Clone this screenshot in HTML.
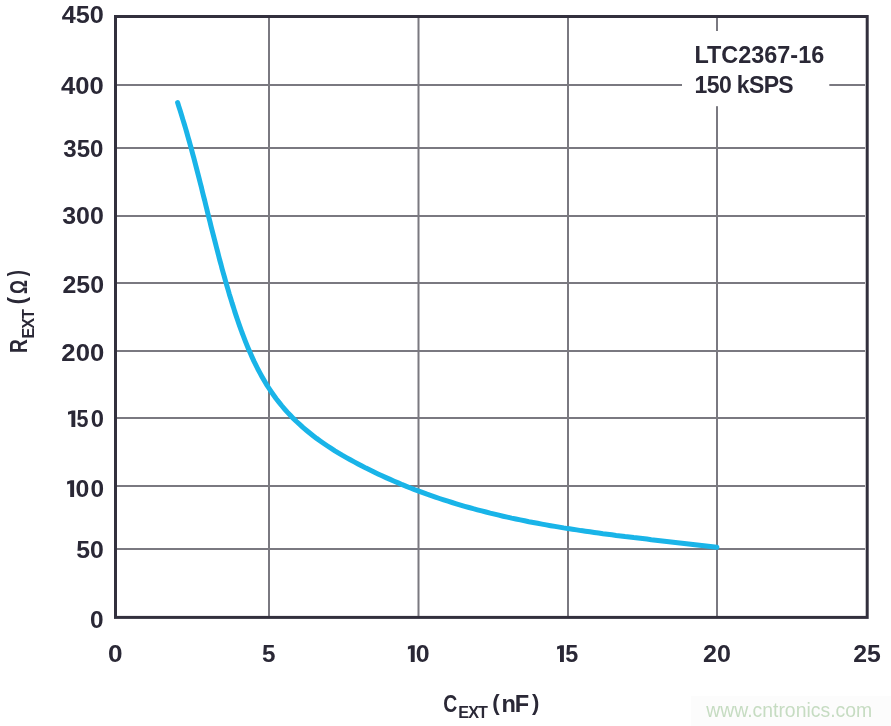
<!DOCTYPE html>
<html><head><meta charset="utf-8">
<style>
html,body{margin:0;padding:0;background:#fff;}
body{width:891px;height:726px;overflow:hidden;position:relative;}
svg{position:absolute;left:0;top:0;will-change:transform;}
text{font-family:"Liberation Sans",sans-serif;font-weight:bold;fill:#2a2836;}
</style></head><body>
<svg width="891" height="726" viewBox="0 0 891 726">
<g fill="#7a7980">
<rect x="268" y="18" width="2" height="598"/>
<rect x="417.5" y="18" width="2" height="598"/>
<rect x="567" y="18" width="2" height="598"/>
<rect x="716" y="18" width="2" height="598"/>
<rect x="117" y="84" width="748" height="2"/>
<rect x="117" y="147" width="748" height="2"/>
<rect x="117" y="215" width="748" height="2"/>
<rect x="117" y="282" width="748" height="2"/>
<rect x="117" y="350" width="748" height="2"/>
<rect x="117" y="417" width="748" height="2"/>
<rect x="117" y="485" width="748" height="2"/>
<rect x="117" y="548" width="748" height="2"/>
</g>
<rect x="682" y="31" width="147.3" height="75.2" fill="#fff"/>
<rect x="115.5" y="16.5" width="751.7" height="600.9" fill="none" stroke="#32303d" stroke-width="3"/>
<path d="M177.6,102.6 L178.9,106.8 L180.3,111.1 L181.6,115.3 L182.9,119.6 L184.2,123.8 L185.5,128.1 L186.7,132.3 L187.9,136.6 L189.1,140.8 L190.3,145.1 L191.5,149.3 L192.6,153.6 L193.8,157.9 L194.9,162.1 L196.0,166.4 L197.1,170.7 L198.2,174.9 L199.3,179.2 L200.4,183.5 L201.5,187.7 L202.5,192.0 L203.6,196.3 L204.7,200.5 L205.7,204.8 L206.8,209.1 L207.8,213.3 L208.9,217.6 L210.0,221.9 L211.0,226.1 L212.1,230.4 L213.2,234.7 L214.3,238.9 L215.4,243.2 L216.5,247.5 L217.6,251.7 L218.7,256.0 L219.8,260.3 L221.0,264.5 L222.1,268.8 L223.3,273.1 L224.5,277.3 L225.7,281.6 L226.9,285.8 L228.2,290.1 L229.4,294.4 L230.7,298.6 L232.0,302.9 L233.4,307.1 L234.7,311.4 L236.1,315.6 L237.5,319.8 L239.0,324.1 L240.5,328.3 L242.0,332.5 L243.6,336.6 L245.2,340.8 L246.8,344.9 L248.5,349.0 L250.3,353.1 L252.1,357.1 L253.9,361.1 L255.9,365.1 L257.8,369.0 L259.9,372.9 L262.0,376.7 L264.2,380.5 L266.4,384.3 L268.8,388.0 L271.2,391.6 L273.7,395.2 L276.2,398.7 L278.9,402.1 L281.6,405.5 L284.4,408.8 L287.3,412.1 L290.3,415.3 L293.3,418.4 L296.5,421.5 L299.7,424.4 L302.9,427.4 L306.3,430.2 L309.7,433.0 L313.1,435.7 L316.6,438.4 L320.2,441.0 L323.8,443.5 L327.5,446.0 L331.2,448.4 L334.9,450.8 L338.7,453.1 L342.5,455.4 L346.4,457.6 L350.3,459.8 L354.2,461.9 L358.1,464.0 L362.0,466.0 L366.0,468.1 L370.0,470.0 L374.0,472.0 L378.0,473.9 L382.0,475.8 L386.0,477.6 L390.1,479.4 L394.2,481.2 L398.2,482.9 L402.3,484.7 L406.4,486.3 L410.5,488.0 L414.6,489.6 L418.8,491.1 L422.9,492.7 L427.0,494.2 L431.2,495.6 L435.4,497.1 L439.5,498.5 L443.7,499.9 L447.9,501.2 L452.1,502.5 L456.3,503.8 L460.5,505.1 L464.7,506.3 L469.0,507.5 L473.2,508.7 L477.4,509.8 L481.7,510.9 L486.0,512.0 L490.2,513.1 L494.5,514.1 L498.8,515.2 L503.1,516.2 L507.3,517.1 L511.6,518.1 L515.9,519.0 L520.3,519.9 L524.6,520.8 L528.9,521.7 L533.2,522.5 L537.6,523.3 L541.9,524.1 L546.2,524.9 L550.6,525.7 L554.9,526.4 L559.3,527.1 L563.6,527.9 L568.0,528.6 L572.4,529.2 L576.7,529.9 L581.1,530.6 L585.5,531.2 L589.9,531.8 L594.3,532.5 L598.6,533.1 L603.0,533.7 L607.4,534.2 L611.8,534.8 L616.2,535.4 L620.6,535.9 L625.0,536.5 L629.4,537.0 L633.7,537.6 L638.1,538.1 L642.5,538.6 L646.9,539.1 L651.3,539.7 L655.7,540.2 L660.1,540.7 L664.5,541.2 L668.9,541.7 L673.2,542.2 L677.6,542.7 L682.0,543.2 L686.4,543.7 L690.8,544.2 L695.1,544.7 L699.5,545.2 L703.9,545.7 L708.2,546.2 L712.6,546.7 L716.9,547.2" fill="none" stroke="#19b4e8" stroke-width="5" stroke-linecap="round" stroke-linejoin="round"/>
<text x="61.71" y="22.7" font-size="23.0" textLength="42.17" lengthAdjust="spacingAndGlyphs">450</text>
<text x="61.01" y="93.7" font-size="23.0" textLength="42.72" lengthAdjust="spacingAndGlyphs">400</text>
<text x="63.28" y="156.6" font-size="23.0" textLength="40.18" lengthAdjust="spacingAndGlyphs">350</text>
<text x="62.26" y="223.7" font-size="23.0" textLength="41.6" lengthAdjust="spacingAndGlyphs">300</text>
<text x="62.5" y="293" font-size="23.0" textLength="41.52" lengthAdjust="spacingAndGlyphs">250</text>
<text x="61.37" y="360.9" font-size="23.0" textLength="42.85" lengthAdjust="spacingAndGlyphs">200</text>
<text x="76.2" y="557.5" font-size="23.0" textLength="27.61" lengthAdjust="spacingAndGlyphs">50</text>
<text x="90.12" y="627.7" font-size="23.0" textLength="13.58" lengthAdjust="spacingAndGlyphs">0</text>
<text x="107.99" y="661.9" font-size="23.0" textLength="14.56" lengthAdjust="spacingAndGlyphs">0</text>
<text x="261.95" y="661.9" font-size="23.0" textLength="13.47" lengthAdjust="spacingAndGlyphs">5</text>
<text x="702.97" y="661.9" font-size="23.0" textLength="27.87" lengthAdjust="spacingAndGlyphs">20</text>
<text x="853.21" y="661.9" font-size="23.0" textLength="27.6" lengthAdjust="spacingAndGlyphs">25</text>
<text x="694.42" y="62.7" font-size="23.0" textLength="129.82" lengthAdjust="spacingAndGlyphs">LTC2367-16</text>
<text x="694.6" y="92.9" font-size="23.0" textLength="99.1" lengthAdjust="spacing">150 kSPS</text>
<text x="443.33" y="711.6" font-size="23.6" textLength="14.02" lengthAdjust="spacingAndGlyphs">C</text>
<text x="458.19" y="717.8" font-size="16.2" textLength="29.78" lengthAdjust="spacing">EXT</text>
<text x="492.26" y="709.5" font-size="22.9" textLength="7.41" lengthAdjust="spacingAndGlyphs">(</text>
<text x="501.59" y="711.6" font-size="23.6" textLength="27.47" lengthAdjust="spacing">nF</text>
<text x="531.94" y="709.5" font-size="22.9" textLength="7.35" lengthAdjust="spacingAndGlyphs">)</text>
<text x="76.61" y="427.1" font-size="23.0" textLength="11.97" lengthAdjust="spacingAndGlyphs">5</text>
<text x="90.75" y="427.1" font-size="23.0" textLength="13.22" lengthAdjust="spacingAndGlyphs">0</text>
<text x="75.62" y="496.9" font-size="23.0" textLength="13.83" lengthAdjust="spacingAndGlyphs">0</text>
<text x="90.42" y="496.9" font-size="23.0" textLength="13.58" lengthAdjust="spacingAndGlyphs">0</text>
<text x="415.82" y="661.9" font-size="23.0" textLength="13.85" lengthAdjust="spacingAndGlyphs">0</text>
<text x="565.27" y="661.9" font-size="23.0" textLength="13.01" lengthAdjust="spacingAndGlyphs">5</text>
<path d="M68.00,411.80 L72.10,410.50 L75.30,410.50 L75.30,427.10 L71.40,427.10 L71.40,413.80 L68.00,414.70Z" fill="#2a2836"/><path d="M67.10,481.60 L70.90,480.30 L74.10,480.30 L74.10,496.90 L70.20,496.90 L70.20,483.60 L67.10,484.50Z" fill="#2a2836"/><path d="M407.90,646.60 L411.50,645.30 L414.70,645.30 L414.70,661.90 L410.80,661.90 L410.80,648.60 L407.90,649.50Z" fill="#2a2836"/><path d="M557.10,646.60 L560.70,645.30 L563.90,645.30 L563.90,661.90 L560.00,661.90 L560.00,648.60 L557.10,649.50Z" fill="#2a2836"/>
<g transform="translate(27.3,352.1) rotate(-90)">
<text x="-0.97" y="0" font-size="24.0" textLength="13.88" lengthAdjust="spacingAndGlyphs">R</text>
<text x="13.59" y="6.2" font-size="16.2" textLength="29.41" lengthAdjust="spacing">EXT</text>
<text x="47.56" y="-2.3" font-size="23.9" textLength="7.63" lengthAdjust="spacingAndGlyphs">(</text>
<text x="58.09" y="0" font-size="23.6" textLength="14.07" lengthAdjust="spacingAndGlyphs">&#937;</text>
<text x="75.84" y="-2.3" font-size="23.9" textLength="6.12" lengthAdjust="spacingAndGlyphs">)</text>
</g>
<rect x="691" y="696" width="200" height="30" fill="#fcfcfc"/>
<text x="706.2" y="716.6" font-size="19.8" textLength="166" lengthAdjust="spacingAndGlyphs" style="font-weight:normal;fill:#c6dcc2">www.cntronics.com</text>
</svg>
</body></html>
